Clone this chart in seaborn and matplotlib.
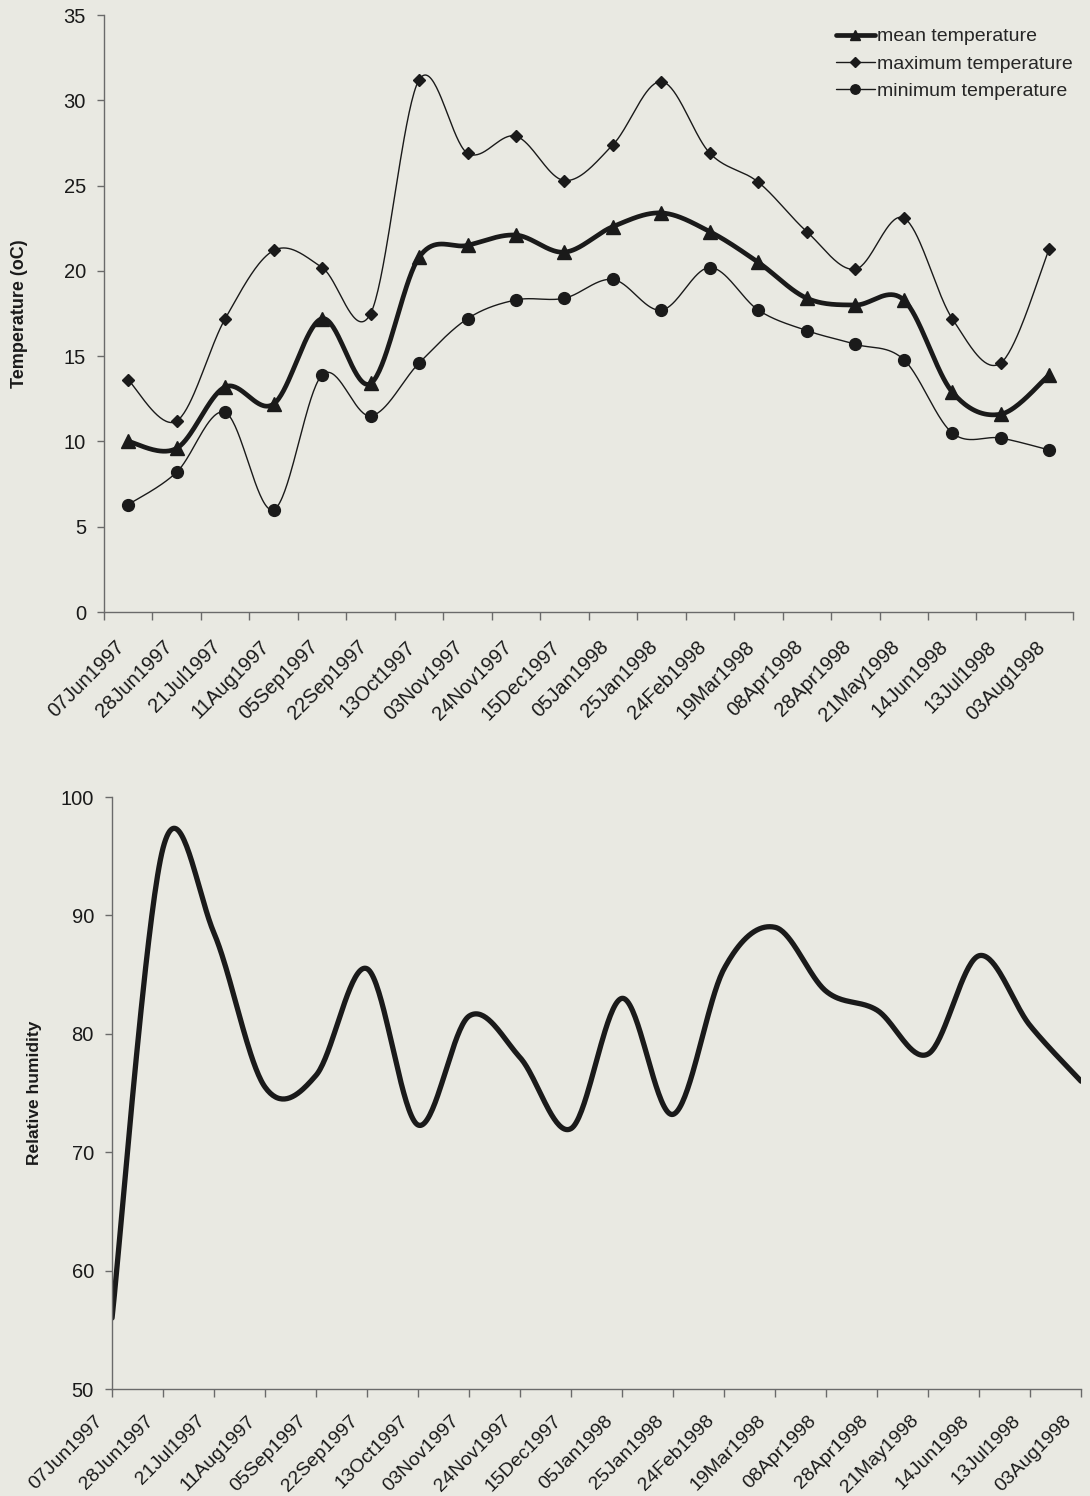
import numpy as np
import pandas as pd
import matplotlib
matplotlib.use("Agg")
import matplotlib.pyplot as plt
import matplotlib.transforms as mtransforms
from matplotlib.lines import Line2D
import seaborn as sns

# Sampling dates
dates = ["07Jun1997", "28Jun1997", "21Jul1997", "11Aug1997", "05Sep1997",
         "22Sep1997", "13Oct1997", "03Nov1997", "24Nov1997", "15Dec1997",
         "05Jan1998", "25Jan1998", "24Feb1998", "19Mar1998", "08Apr1998",
         "28Apr1998", "21May1998", "14Jun1998", "13Jul1998", "03Aug1998"]

# Air temperature (oC)
mean_temp = [10.0, 9.6, 13.2, 12.2, 17.2, 13.4, 20.8, 21.5, 22.1, 21.1,
             22.6, 23.4, 22.3, 20.5, 18.4, 18.0, 18.3, 12.9, 11.6, 13.9]
max_temp = [13.6, 11.2, 17.2, 21.2, 20.2, 17.5, 31.2, 26.9, 27.9, 25.3,
            27.4, 31.1, 26.9, 25.2, 22.3, 20.1, 23.1, 17.2, 14.6, 21.3]
min_temp = [6.3, 8.2, 11.7, 6.0, 13.9, 11.5, 14.6, 17.2, 18.3, 18.4,
            19.5, 17.7, 20.2, 17.7, 16.5, 15.7, 14.8, 10.5, 10.2, 9.5]

# Relative humidity (%)
humidity = [56.0, 95.7, 88.5, 75.5, 76.5, 85.5, 72.3, 81.5, 78.0, 72.0,
            83.0, 73.2, 85.5, 89.0, 83.6, 82.0, 78.3, 86.6, 80.7, 76.0]

BG = "#e9e9e2"
INK = "#1a1a1a"
AXC = "#6a6a6a"


def smooth_curve(xs, ys, n=40):
    """Piecewise cubic Bezier through the points (spreadsheet-style smoothing)."""
    pts = np.column_stack([xs, ys]).astype(float)
    ext = np.vstack([pts[0], pts, pts[-1]])
    t = np.linspace(0.0, 1.0, n)[:, None]
    pieces = []
    for i in range(len(pts) - 1):
        p0, p1, p2, p3 = ext[i], ext[i + 1], ext[i + 2], ext[i + 3]
        c1 = p1 + (p2 - p0) / 6.0
        c2 = p2 - (p3 - p1) / 6.0
        seg = ((1 - t) ** 3) * p1 + 3 * ((1 - t) ** 2) * t * c1 \
            + 3 * (1 - t) * (t ** 2) * c2 + (t ** 3) * p2
        pieces.append(seg if i == 0 else seg[1:])
    arr = np.vstack(pieces)
    return pd.DataFrame({"x": arr[:, 0], "y": arr[:, 1]})


sns.set_theme(style="ticks")
plt.rcParams["font.family"] = ["Liberation Sans", "DejaVu Sans"]
plt.rcParams["axes.facecolor"] = BG
plt.rcParams["figure.facecolor"] = BG
plt.rcParams["axes.edgecolor"] = AXC
plt.rcParams["xtick.color"] = AXC
plt.rcParams["ytick.color"] = AXC
plt.rcParams["xtick.labelcolor"] = INK
plt.rcParams["ytick.labelcolor"] = INK

fig = plt.figure(figsize=(10.90, 14.96), dpi=100)
ax1 = fig.add_axes([0.0954, 0.5909, 0.8894, 0.3990])
ax2 = fig.add_axes([0.1028, 0.0715, 0.8890, 0.3957])

xpos = np.arange(len(dates))

# ---- Temperature panel ----
series = [
    ("mean temperature", mean_temp, 3.4, "^", 9.5),
    ("maximum temperature", max_temp, 1.0, "D", 6.5),
    ("minimum temperature", min_temp, 1.0, "o", 8.5),
]
handles = []
for name, vals, lw, mk, ms in series:
    curve = smooth_curve(xpos, vals)
    sns.lineplot(data=curve, x="x", y="y", ax=ax1, sort=False, estimator=None,
                 color=INK, linewidth=lw)
    ax1.plot(xpos, vals, linestyle="none", marker=mk, markersize=ms,
             color=INK, markeredgecolor=INK)
    handles.append(Line2D([], [], color=INK, linewidth=lw, marker=mk,
                          markersize=ms * 0.8, label=name))

ax1.set_xlim(-0.5, len(dates) - 0.5)
ax1.set_ylim(0, 35)
ax1.set_yticks(np.arange(0, 36, 5))
ax1.set_xticks(xpos)
ax1.set_xticklabels(dates, rotation=45, ha="right", va="center",
                    rotation_mode="anchor", fontsize=14.5)
ax1.set_xticks(np.arange(-0.5, len(dates), 1.0), minor=True)
ax1.tick_params(axis="x", which="major", length=0, pad=23)
ax1.tick_params(axis="x", which="minor", length=6, width=1.0)
ax1.tick_params(axis="y", length=5, width=1.0, pad=8, labelsize=14.5)
ax1.set_xlabel("")
ax1.set_ylabel("Temperature (oC)", fontsize=13, fontweight="bold", color=INK)
ax1.yaxis.set_label_coords(-0.078, 0.5)
ax1.legend(handles=handles, loc="upper right", bbox_to_anchor=(1.012, 1.0),
           frameon=False, fontsize=14, handlelength=2.0, handletextpad=0.1,
           labelspacing=0.5, borderaxespad=0.25)

off1 = mtransforms.ScaledTranslation(-7 / 100, 0, fig.dpi_scale_trans)
for lbl in ax1.get_xticklabels():
    lbl.set_transform(lbl.get_transform() + off1)

# ---- Relative humidity panel ----
hcurve = smooth_curve(xpos, humidity)
sns.lineplot(data=hcurve, x="x", y="y", ax=ax2, sort=False, estimator=None,
             color=INK, linewidth=3.8)
ax2.set_xlim(0, len(dates) - 1)
ax2.set_ylim(50, 100)
ax2.set_yticks(np.arange(50, 101, 10))
ax2.set_xticks(xpos)
ax2.set_xticklabels(dates, rotation=45, ha="right", va="center",
                    rotation_mode="anchor", fontsize=14)
ax2.tick_params(axis="x", length=6, width=1.0, pad=15)
ax2.tick_params(axis="y", length=5, width=1.0, pad=8, labelsize=14.5)
ax2.set_xlabel("")
ax2.set_ylabel("Relative humidity", fontsize=12.5, fontweight="bold", color=INK)
ax2.yaxis.set_label_coords(-0.072, 0.5)

off2 = mtransforms.ScaledTranslation(-12 / 100, 0, fig.dpi_scale_trans)
for lbl in ax2.get_xticklabels():
    lbl.set_transform(lbl.get_transform() + off2)

for ax in (ax1, ax2):
    sns.despine(ax=ax)
    ax.spines["left"].set_linewidth(1.0)
    ax.spines["bottom"].set_linewidth(1.0)

fig.savefig("out.png", dpi=100, facecolor=BG)
